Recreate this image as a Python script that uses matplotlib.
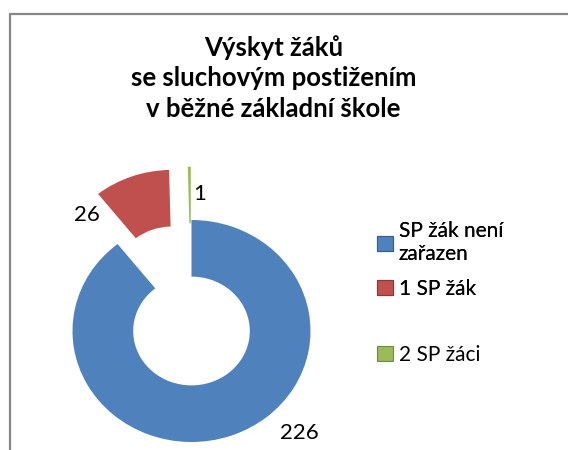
import matplotlib.pyplot as plt
from matplotlib.patches import Rectangle, Patch

plt.rcParams['font.family'] = ['Lato', 'DejaVu Sans']

categories = ['SP žák není\nzařazen', '1 SP žák', '2 SP žáci']
values = [226, 26, 1]
colors = ['#4F81BD', '#C0504D', '#9BBB59']
edge_colors = ['#385D8A', '#8C3836', '#71893F']
explode = [0, 0.48, 0.48]
title = 'Výskyt žáků\nse sluchovým postižením\nv běžné základní škole'

# label positions (data units, ring centre at 0,0)
label_pos = [(0.91, -0.92), (-0.88, 1.045), (0.065, 1.235)]

W, H = 568, 450
fig = plt.figure(figsize=(W / 100, H / 100), dpi=100)

# ring centre at pixel (191.5, 331), x unit 119 px, y unit 111 px
xlim = (-1.5, 1.5)
ylim = (-1.05, 1.75)
cx, cy, ux, uy = 191.5, H - 331, 119, 111
left = cx + xlim[0] * ux
bottom = cy + ylim[0] * uy
ax = fig.add_axes([left / W, bottom / H,
                   (xlim[1] - xlim[0]) * ux / W, (ylim[1] - ylim[0]) * uy / H])

wedges, _ = ax.pie(values, colors=colors, explode=explode, startangle=90,
                   counterclock=False, radius=1,
                   wedgeprops=dict(width=0.51, linewidth=0))
ax.set_aspect('auto')
ax.set_xlim(*xlim)
ax.set_ylim(*ylim)
ax.axis('off')

for v, (x, y) in zip(values, label_pos):
    ax.text(x, y, str(v), ha='center', va='center', fontsize=16, color='#000000')

fig.text(273.5 / W, 1 - 35 / H, title, ha='center', va='top', fontsize=18.5,
         fontweight='bold', linespacing=1.33, color='#000000')

handles = [Patch(facecolor=c, edgecolor=e, linewidth=0.8)
           for c, e in zip(colors, edge_colors)]
leg_kw = dict(frameon=False, fontsize=15, handlelength=0.75, handleheight=0.75,
              handletextpad=0.3, borderpad=0, borderaxespad=0)
leg1 = fig.legend(handles[:2], categories[:2], loc='upper left',
                  bbox_to_anchor=(377 / W, 1 - 221 / H), labelspacing=0.7,
                  **leg_kw)
fig.add_artist(leg1)
fig.legend(handles[2:], categories[2:], loc='center left',
           bbox_to_anchor=(377 / W, 1 - 355 / H), **leg_kw)

# chart border (only top and left edges visible in the crop)
fig.patches.append(Rectangle((10 / W, -0.1), 1.2, 1.1 - 14 / H,
                             transform=fig.transFigure, fill=False,
                             edgecolor='#868686', linewidth=1.6))

fig.savefig('out.png', dpi=100)
